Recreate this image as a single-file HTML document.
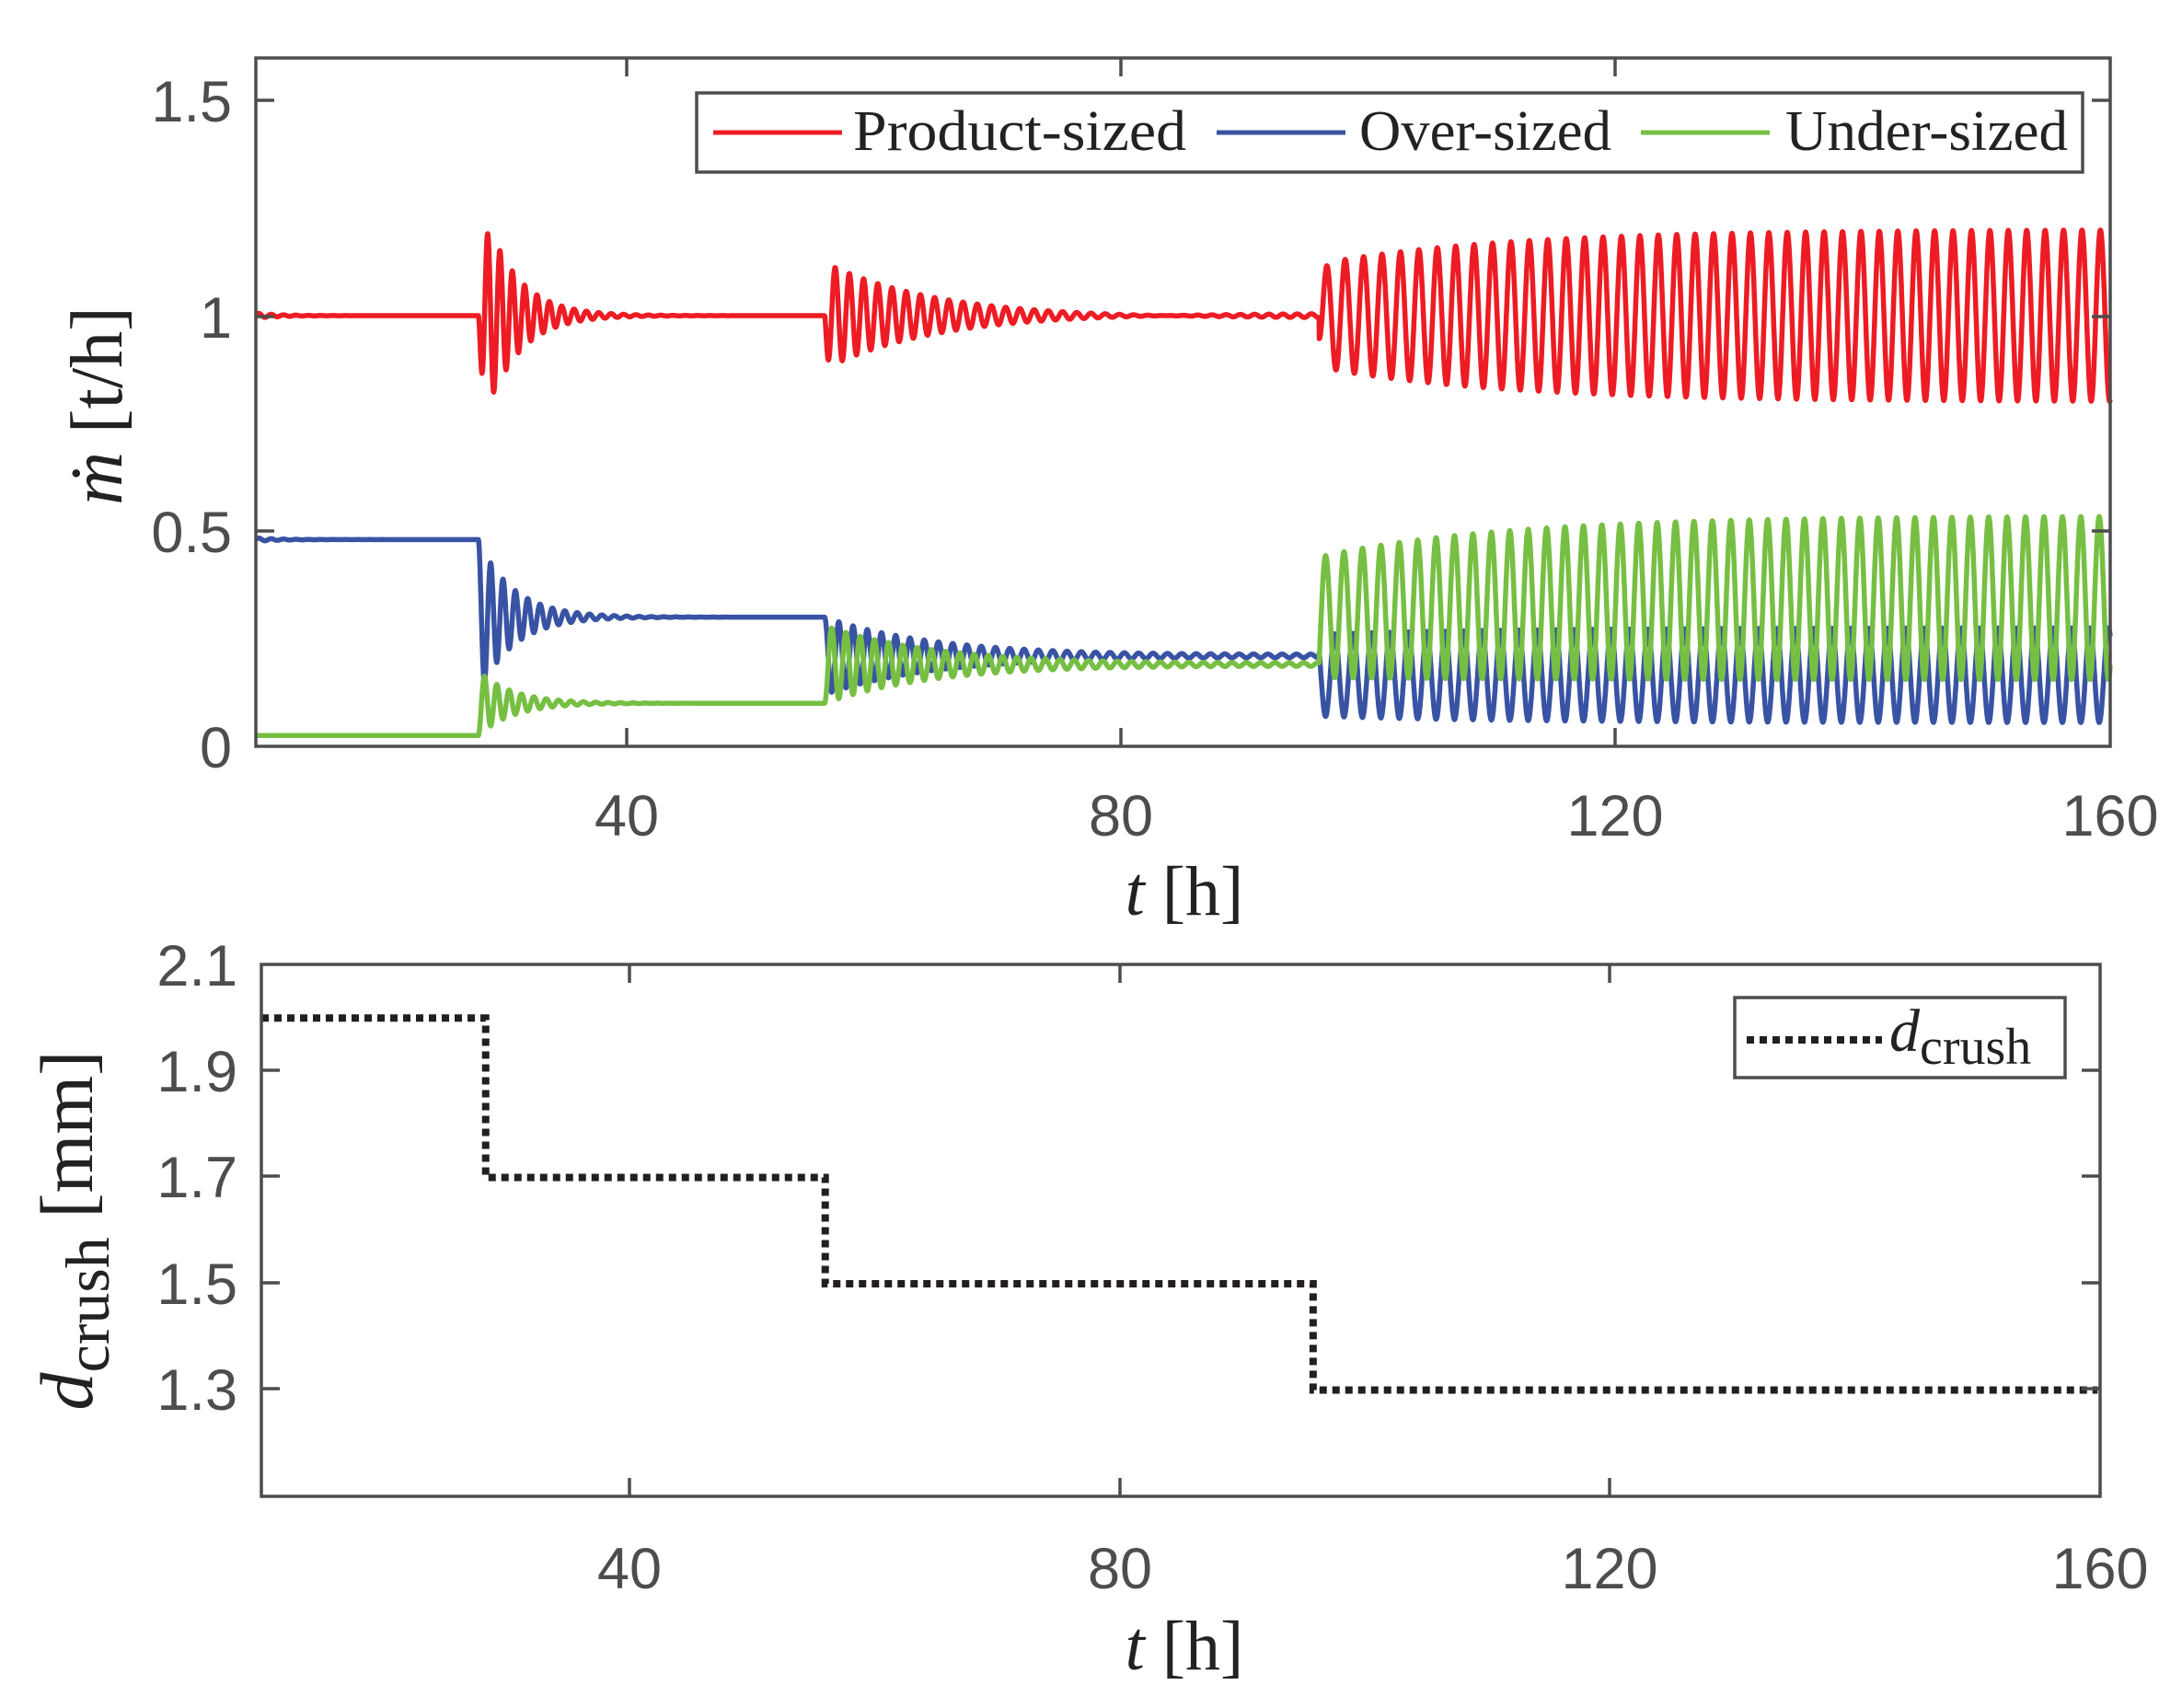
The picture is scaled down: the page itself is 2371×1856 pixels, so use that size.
<!DOCTYPE html>
<html><head><meta charset="utf-8"><style>
html,body{margin:0;padding:0;background:#fff}
svg{display:block}
.tk{font-family:"Liberation Sans",Arial,sans-serif;font-size:63px;fill:#4d4d4d}
.sf{font-family:"Liberation Serif",serif;fill:#222}
</style></head><body>
<svg id="s" width="2371" height="1856" viewBox="0 0 2371 1856" xmlns="http://www.w3.org/2000/svg">
<rect width="2371" height="1856" fill="#fff"/>
<g id="top"></g>
<g id="bot"></g>
<rect x="278" y="63" width="2015" height="748" fill="none" stroke="#4d4d4d" stroke-width="3.5"/>
<g stroke="#4d4d4d" stroke-width="3.5">
<line x1="681" y1="811" x2="681" y2="791"/><line x1="681" y1="63" x2="681" y2="83"/>
<line x1="1218" y1="811" x2="1218" y2="791"/><line x1="1218" y1="63" x2="1218" y2="83"/>
<line x1="1755" y1="811" x2="1755" y2="791"/><line x1="1755" y1="63" x2="1755" y2="83"/>
<line x1="278" y1="109" x2="298" y2="109"/><line x1="2293" y1="109" x2="2273" y2="109"/>
<line x1="278" y1="344" x2="298" y2="344"/><line x1="2293" y1="344" x2="2273" y2="344"/>
<line x1="278" y1="577" x2="298" y2="577"/><line x1="2293" y1="577" x2="2273" y2="577"/>
</g>
<text class="tk" x="252" y="132" text-anchor="end">1.5</text>
<text class="tk" x="252" y="367" text-anchor="end">1</text>
<text class="tk" x="252" y="600" text-anchor="end">0.5</text>
<text class="tk" x="252" y="834" text-anchor="end">0</text>
<text class="tk" x="681" y="908" text-anchor="middle">40</text>
<text class="tk" x="1218" y="908" text-anchor="middle">80</text>
<text class="tk" x="1755" y="908" text-anchor="middle">120</text>
<text class="tk" x="2293" y="908" text-anchor="middle">160</text>
<text class="sf" x="1287" y="994" text-anchor="middle" font-size="76"><tspan font-style="italic">t</tspan> [h]</text>
<text class="sf" transform="translate(132,441) rotate(-90)" text-anchor="middle" font-size="80"><tspan font-style="italic">ṁ</tspan> [t/h]</text>
<rect x="757" y="101" width="1506" height="86" fill="#fff" stroke="#4d4d4d" stroke-width="3.5"/>
<line x1="775" y1="144" x2="915" y2="144" stroke="#ED1C24" stroke-width="5"/>
<line x1="1322" y1="144" x2="1462" y2="144" stroke="#3953A4" stroke-width="5"/>
<line x1="1783" y1="144" x2="1923" y2="144" stroke="#77BF43" stroke-width="5"/>
<text class="sf" x="927" y="163" font-size="62" textLength="362" lengthAdjust="spacingAndGlyphs">Product-sized</text>
<text class="sf" x="1477" y="163" font-size="62" textLength="274" lengthAdjust="spacingAndGlyphs">Over-sized</text>
<text class="sf" x="1940" y="163" font-size="62" textLength="307" lengthAdjust="spacingAndGlyphs">Under-sized</text>
<rect x="284" y="1048" width="1998" height="578" fill="none" stroke="#4d4d4d" stroke-width="3.5"/>
<g stroke="#4d4d4d" stroke-width="3.5">
<line x1="684" y1="1626" x2="684" y2="1606"/><line x1="684" y1="1048" x2="684" y2="1068"/>
<line x1="1217" y1="1626" x2="1217" y2="1606"/><line x1="1217" y1="1048" x2="1217" y2="1068"/>
<line x1="1749" y1="1626" x2="1749" y2="1606"/><line x1="1749" y1="1048" x2="1749" y2="1068"/>
<line x1="284" y1="1163" x2="304" y2="1163"/><line x1="2282" y1="1163" x2="2262" y2="1163"/>
<line x1="284" y1="1278" x2="304" y2="1278"/><line x1="2282" y1="1278" x2="2262" y2="1278"/>
<line x1="284" y1="1394" x2="304" y2="1394"/><line x1="2282" y1="1394" x2="2262" y2="1394"/>
<line x1="284" y1="1509" x2="304" y2="1509"/><line x1="2282" y1="1509" x2="2262" y2="1509"/>
</g>
<text class="tk" x="258" y="1071" text-anchor="end">2.1</text>
<text class="tk" x="258" y="1186" text-anchor="end">1.9</text>
<text class="tk" x="258" y="1301" text-anchor="end">1.7</text>
<text class="tk" x="258" y="1417" text-anchor="end">1.5</text>
<text class="tk" x="258" y="1532" text-anchor="end">1.3</text>
<text class="tk" x="684" y="1726" text-anchor="middle">40</text>
<text class="tk" x="1217" y="1726" text-anchor="middle">80</text>
<text class="tk" x="1749" y="1726" text-anchor="middle">120</text>
<text class="tk" x="2282" y="1726" text-anchor="middle">160</text>
<text class="sf" x="1287" y="1814" text-anchor="middle" font-size="76"><tspan font-style="italic">t</tspan> [h]</text>
<text class="sf" transform="translate(100,1337) rotate(-90)" text-anchor="middle" font-size="82"><tspan font-style="italic">d</tspan><tspan font-size="68" dy="18">crush</tspan><tspan dy="-18"> [mm]</tspan></text>
<rect x="1885" y="1084" width="359" height="87" fill="#fff" stroke="#4d4d4d" stroke-width="3.5"/>
<line x1="1898" y1="1130" x2="2045" y2="1130" stroke="#231F20" stroke-width="8" stroke-dasharray="8,6"/>
<text class="sf" x="2053" y="1142" font-size="66"><tspan font-style="italic">d</tspan><tspan font-size="56" dy="14">crush</tspan></text>
</svg>
<script>
(function(){
var NS="http://www.w3.org/2000/svg";
function X(t){return 278+(t-10)*2015/150;}
function Y(v){return 811-v*468;}
var TP=2*Math.PI;
function red(t){
 if(t<28) return 1+0.006*Math.sin(TP*t/1.0)*Math.exp(-(t-10)/2);
 if(t<56){var d=t-28;return 1-0.3*(1-Math.exp(-d/0.4))*Math.exp(-d/2.6)*Math.sin(TP*d/1.0);}
 if(t<96){var d=t-56;return 1-0.13*(1-Math.exp(-d/0.15))*Math.exp(-d/9)*Math.sin(TP*d/1.15)+0.006*Math.sin(TP*d/1.15);}
 var d=t-96,A=0.2-0.08*Math.exp(-d/15);return 1-A*Math.cos(TP*d/1.49+0.5)*(1-0.5*Math.exp(-d/0.3));
}
function blue(t){
 if(t<28) return 0.48+0.004*Math.sin(TP*t)*Math.exp(-(t-10)/2);
 if(t<56){var d=t-28;return 0.3+0.18*Math.exp(-d/2.8)*Math.cos(TP*d/1.0);}
 if(t<96){var d=t-56;return 0.21+0.09*Math.exp(-d/9)*Math.cos(TP*d/1.15)+0.004*Math.sin(TP*d/1.15);}
 var d=t-96,a=0.095+0.015*(1-Math.exp(-d/15));return 0.165+a*Math.cos(TP*d/1.49+0.9);
}
function green(t){
 if(t<28) return 0.025;
 if(t<56){var d=t-28;return 0.1-0.075*Math.exp(-d/2.8)*Math.cos(TP*d/1.0);}
 if(t<96){var d=t-56;return 0.19-0.09*Math.exp(-d/9)*Math.cos(TP*d/1.15)-0.004*Math.sin(TP*d/1.15);}
 var d=t-96,e=1-Math.exp(-d/15),c=0.3+0.045*e,a=0.14+0.05*e;
 return c-a*Math.cos(TP*d/1.49+0.9)+ (0.19-c+a*Math.cos(0.9))*Math.exp(-d/0.15);
}
function path(f,col,g){
 var s="";for(var t=10;t<=160.0001;t+=0.02){s+=(s?"L":"M")+X(t).toFixed(1)+","+Y(f(t)).toFixed(1);}
 var p=document.createElementNS(NS,"path");p.setAttribute("d",s);p.setAttribute("fill","none");
 p.setAttribute("stroke",col);p.setAttribute("stroke-width","5.5");p.setAttribute("stroke-linejoin","round");g.appendChild(p);
}
var g=document.getElementById("top");
path(red,"#ED1C24",g);path(blue,"#3953A4",g);path(green,"#77BF43",g);
var b=document.getElementById("bot");
function BX(t){return 284+(t-10)*1998/150;}function BY(v){return 1626-(v-1.1)*577.5;}
var d="M"+BX(10)+","+BY(2)+"H"+BX(28.3)+"V"+BY(1.7)+"H"+BX(56)+"V"+BY(1.5)+"H"+BX(95.8)+"V"+BY(1.3)+"H"+BX(159.8);
var p=document.createElementNS(NS,"path");p.setAttribute("d",d);p.setAttribute("fill","none");
p.setAttribute("stroke","#231F20");p.setAttribute("stroke-width","8");p.setAttribute("stroke-dasharray","8,6");b.appendChild(p);
})();
</script>
</body></html>
